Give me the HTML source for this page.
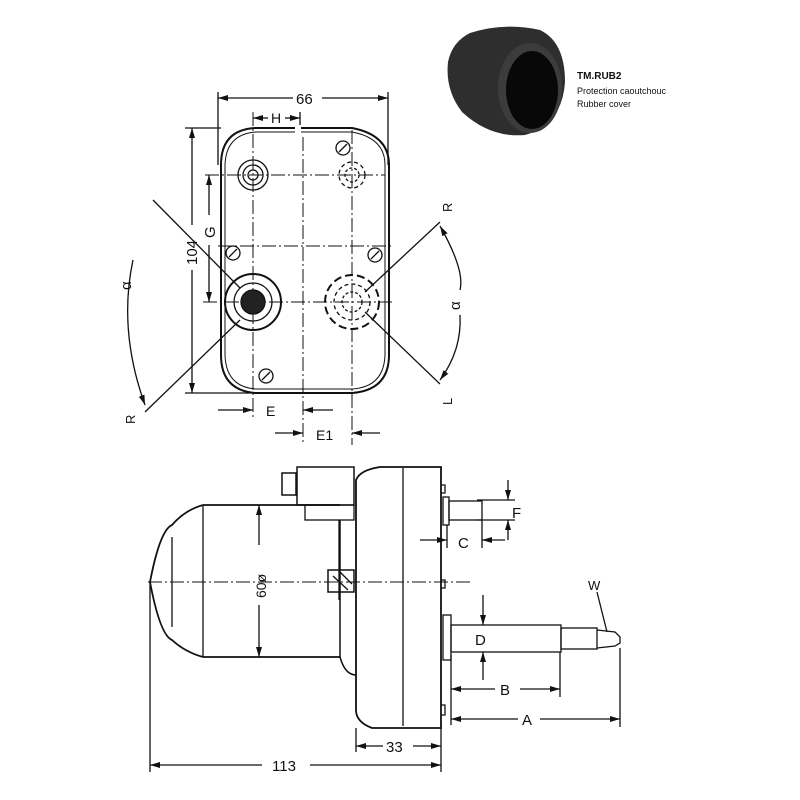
<!DOCTYPE html>
<html><head><meta charset="utf-8"><style>
body{margin:0;background:#fff}
svg{display:block}
text{font-family:"Liberation Sans",sans-serif;fill:#111}
</style></head><body>
<svg width="800" height="800" viewBox="0 0 800 800" xmlns="http://www.w3.org/2000/svg">
<defs>
<marker id="a" markerWidth="10" markerHeight="6" refX="10" refY="3" orient="auto-start-reverse" markerUnits="userSpaceOnUse"><path d="M0,0 L10,3 L0,6 z" fill="#111"/></marker>
</defs>
<rect width="800" height="800" fill="#fff"/>
<!-- photo -->
<g>
<path d="M470,33 Q505,22 540,30 Q565,42 565,82 Q562,125 525,135 Q490,138 462,112 Q445,90 448,62 Q452,42 470,33z" fill="#2e2e2e"/>
<ellipse cx="530" cy="88" rx="32" ry="45" fill="#3c3c3c"/>
<ellipse cx="532" cy="90" rx="26" ry="39" fill="#080808"/>
</g>
<text x="577" y="79" font-size="10" font-weight="bold">TM.RUB2</text>
<text x="577" y="94" font-size="9">Protection caoutchouc</text>
<text x="577" y="107" font-size="9">Rubber cover</text>

<g stroke="#111" fill="none" stroke-width="1.3">
<!-- top view body -->
<path d="M221,165 Q221,130 255,128 L352,128 Q389,135 389,165 L389,355 Q389,390 352,393 L255,393 Q221,390 221,355 Z" stroke-width="2"/>
<path d="M225,165 Q226,134 256,132 L352,132 Q385,138 385,165 L385,355 Q384,387 352,389 L256,389 Q226,387 225,355 Z" stroke-width="1"/>
<rect x="295" y="120" width="6" height="16" fill="#fff" stroke="none"/>
<!-- 66 dim -->
<line x1="218" y1="92" x2="218" y2="165"/><line x1="388" y1="92" x2="388" y2="165"/>
<line x1="218" y1="98" x2="293" y2="98" marker-start="url(#a)"/><line x1="322" y1="98" x2="388" y2="98" marker-end="url(#a)"/>
<!-- H -->
<line x1="253" y1="118" x2="268" y2="118" marker-start="url(#a)"/>
<line x1="285" y1="118" x2="300" y2="118" marker-end="url(#a)"/>
<line x1="300" y1="112" x2="300" y2="125"/>
<!-- centerlines -->
<g stroke-dasharray="14,3,2,3" stroke-width="1">
<line x1="253" y1="112" x2="253" y2="420"/>
<line x1="303" y1="137" x2="303" y2="445"/>
<line x1="352" y1="130" x2="352" y2="445"/>
<line x1="205" y1="175" x2="385" y2="175"/>
<line x1="218" y1="246" x2="392" y2="246"/>
<line x1="203" y1="302" x2="392" y2="302"/>
</g>
<!-- 104 -->
<line x1="185" y1="128" x2="221" y2="128"/><line x1="185" y1="393" x2="300" y2="393"/>
<line x1="192" y1="128" x2="192" y2="225" marker-start="url(#a)"/><line x1="192" y1="270" x2="192" y2="393" marker-end="url(#a)"/>
<!-- G -->
<line x1="209" y1="175" x2="209" y2="215" marker-start="url(#a)"/><line x1="209" y1="245" x2="209" y2="302" marker-end="url(#a)"/>
<!-- bosses -->
<circle cx="253" cy="175" r="15"/><circle cx="253" cy="175" r="10"/><circle cx="253" cy="175" r="5"/>
<circle cx="352" cy="175" r="13" stroke-dasharray="4,3"/><circle cx="352" cy="175" r="7" stroke-dasharray="3,2"/>
<circle cx="253" cy="302" r="28" stroke-width="2"/><circle cx="253" cy="302" r="19"/><circle cx="253" cy="302" r="12" fill="#222"/>
<circle cx="352" cy="302" r="27" stroke-dasharray="8,4" stroke-width="2"/><circle cx="352" cy="302" r="18" stroke-dasharray="4,3"/><circle cx="352" cy="302" r="10" stroke-dasharray="3,2"/>
<!-- screws -->
<circle cx="233" cy="253" r="7"/><line x1="229" y1="257" x2="237" y2="249"/>
<circle cx="375" cy="255" r="7"/><line x1="371" y1="259" x2="379" y2="251"/>
<circle cx="266" cy="376" r="7"/><line x1="262" y1="380" x2="270" y2="372"/>
<circle cx="343" cy="148" r="7"/><line x1="339" y1="152" x2="347" y2="144"/>
<!-- diagonals -->
<line x1="153" y1="200" x2="240" y2="288"/>
<line x1="240" y1="320" x2="145" y2="412"/>
<line x1="440" y1="222" x2="365" y2="292"/>
<line x1="365" y1="312" x2="440" y2="384"/>
<!-- arcs -->
<path d="M133,260 Q118,330 145,405" marker-end="url(#a)"/>
<path d="M440,226 Q465,270 460,290" marker-start="url(#a)"/>
<path d="M460,315 Q462,350 440,380" marker-end="url(#a)"/>
<!-- E -->
<line x1="218" y1="410" x2="253" y2="410" marker-end="url(#a)"/><line x1="303" y1="410" x2="333" y2="410" marker-start="url(#a)"/>
<line x1="275" y1="433" x2="303" y2="433" marker-end="url(#a)"/><line x1="352" y1="433" x2="380" y2="433" marker-start="url(#a)"/>

<!-- side view -->
<line x1="148" y1="582" x2="470" y2="582" stroke-dasharray="14,3,2,3" stroke-width="1"/>
<path d="M203,505 L340,505 M203,657 L340,657" stroke-width="1.8"/>
<path d="M150,582 Q160,530 172,525 Q185,510 203,505 M150,582 Q160,635 172,640 Q185,652 203,657" stroke-width="1.8"/>
<line x1="172" y1="537" x2="172" y2="627"/>
<line x1="203" y1="505" x2="203" y2="657"/>
<path d="M340,520 L340,657 Q345,675 356,675" stroke-width="1.5"/>
<line x1="339" y1="520" x2="339" y2="600"/>
<!-- gear housing -->
<path d="M356,480 Q360,470 380,467 L441,467 L441,728 L372,728 Q356,722 356,710 Z" stroke-width="1.8"/>
<line x1="403" y1="468" x2="403" y2="726"/>
<!-- connector -->
<rect x="297" y="467" width="57" height="38" stroke-width="1.5"/>
<rect x="282" y="473" width="14" height="22" stroke-width="1.5"/>
<rect x="305" y="505" width="49" height="15"/>
<!-- grommet -->
<rect x="328" y="570" width="26" height="22" stroke-width="1.5"/>
<path d="M333,576 L348,590 M340,572 L352,584"/>
<!-- small marks -->
<path d="M441,485 h4 v8 h-4 M441,580 h4 v8 h-4 M441,705 h4 v10 h-4"/>
<!-- small shaft -->
<rect x="443" y="497" width="6" height="28"/>
<rect x="449" y="501" width="33" height="19"/>
<!-- big shaft -->
<rect x="443" y="615" width="8" height="45"/>
<rect x="451" y="625" width="110" height="27"/>
<rect x="561" y="628" width="36" height="21"/>
<path d="M597,630 L615,632 L620,637 L620,643 L615,646 L597,648"/>
<!-- F -->
<line x1="477" y1="500" x2="515" y2="500"/><line x1="477" y1="520" x2="515" y2="520"/>
<line x1="508" y1="480" x2="508" y2="500" marker-end="url(#a)"/><line x1="508" y1="540" x2="508" y2="520" marker-end="url(#a)"/>
<!-- C -->
<line x1="447" y1="525" x2="447" y2="548"/><line x1="482" y1="520" x2="482" y2="548"/>
<line x1="420" y1="540" x2="447" y2="540" marker-end="url(#a)"/><line x1="505" y1="540" x2="482" y2="540" marker-end="url(#a)"/>
<!-- D -->
<line x1="483" y1="595" x2="483" y2="625" marker-end="url(#a)"/><line x1="483" y1="680" x2="483" y2="652" marker-end="url(#a)"/>
<!-- B, A -->
<line x1="451" y1="655" x2="451" y2="725"/><line x1="560" y1="652" x2="560" y2="697"/><line x1="620" y1="648" x2="620" y2="727"/>
<line x1="451" y1="689" x2="495" y2="689" marker-start="url(#a)"/><line x1="520" y1="689" x2="560" y2="689" marker-end="url(#a)"/>
<line x1="451" y1="719" x2="518" y2="719" marker-start="url(#a)"/><line x1="540" y1="719" x2="620" y2="719" marker-end="url(#a)"/>
<!-- 33, 113 -->
<line x1="356" y1="728" x2="356" y2="752"/><line x1="441" y1="728" x2="441" y2="772"/><line x1="150" y1="582" x2="150" y2="772"/>
<line x1="356" y1="746" x2="383" y2="746" marker-start="url(#a)"/><line x1="413" y1="746" x2="441" y2="746" marker-end="url(#a)"/>
<line x1="150" y1="765" x2="262" y2="765" marker-start="url(#a)"/><line x1="310" y1="765" x2="441" y2="765" marker-end="url(#a)"/>
<!-- 60 -->
<line x1="259" y1="505" x2="259" y2="545" marker-start="url(#a)"/><line x1="259" y1="605" x2="259" y2="657" marker-end="url(#a)"/>
<!-- W -->
<line x1="597" y1="592" x2="607" y2="632"/>
</g>
<g font-size="15">
<text x="296" y="104">66</text>
<text x="271" y="123" font-size="14">H</text>
<text transform="translate(197,265) rotate(-90)">104</text>
<text transform="translate(215,238) rotate(-90)">G</text>
<text transform="translate(131,290) rotate(-90)">α</text>
<text transform="translate(460,310) rotate(-90)">α</text>
<text transform="translate(135,424) rotate(-90)" font-size="13">R</text>
<text transform="translate(452,212) rotate(-90)" font-size="13">R</text>
<text transform="translate(452,405) rotate(-90)" font-size="13">L</text>
<text x="266" y="416" font-size="14">E</text>
<text x="316" y="440" font-size="14">E1</text>
<text transform="translate(266,598) rotate(-90)" font-size="14">60ø</text>
<text x="512" y="518">F</text>
<text x="458" y="548">C</text>
<text x="475" y="645">D</text>
<text x="500" y="695">B</text>
<text x="522" y="725">A</text>
<text x="386" y="752">33</text>
<text x="272" y="771">113</text>
<text x="588" y="590" font-size="13">W</text>
</g>
</svg>
</body></html>
